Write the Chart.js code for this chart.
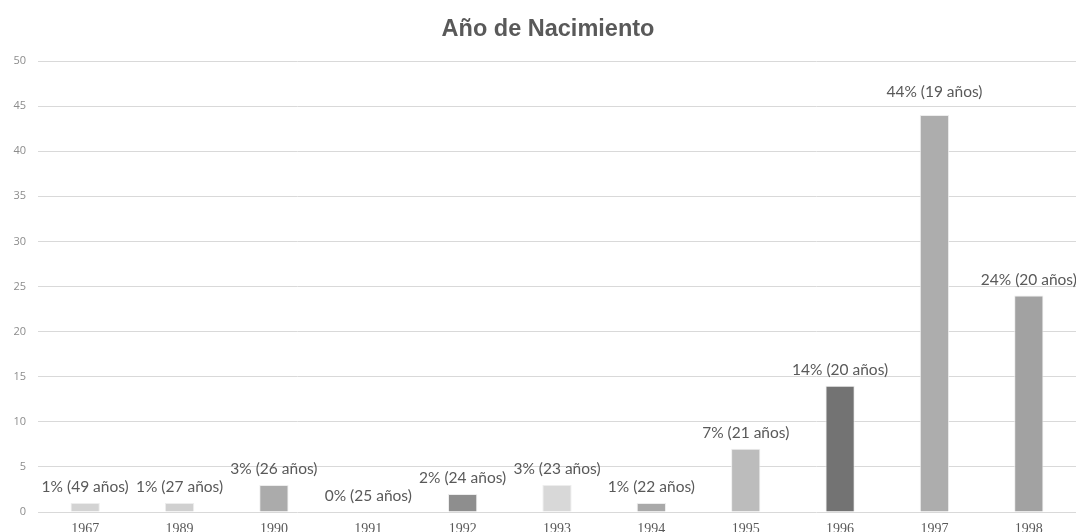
<!DOCTYPE html>
<html>
<head>
<meta charset="utf-8">
<script src="https://cdn.jsdelivr.net/npm/chart.js@4/dist/chart.umd.min.js"></script>
<style>
  html, body { margin: 0; padding: 0; background: #ffffff; }
  #wrap { width: 1076px; height: 532px; position: relative; }
</style>
</head>
<body>
<div id="wrap"><canvas id="c"></canvas></div>
<script>
// Birth years, share of respondents (%) and corresponding age
const years = ['1967', '1989', '1990', '1991', '1992', '1993', '1994', '1995', '1996', '1997', '1998'];
const percents = [1, 1, 3, 0, 2, 3, 1, 7, 14, 44, 24];
const ages = [49, 27, 26, 25, 24, 23, 22, 21, 20, 19, 20];
const barColors = ['#d3d3d3', '#d0d0d0', '#ababab', '#bdbdbd', '#8e8e8e', '#d8d8d8', '#a9a9a9', '#bcbcbc', '#737373', '#adadad', '#a2a2a2'];
const yTicks = [0, 5, 10, 15, 20, 25, 30, 35, 40, 45, 50];
const chartTitle = 'Año de Nacimiento';

const barLabels = percents.map((p, i) => p + '% (' + ages[i] + ' años)');

// Draws "NN% (NN años)" above each bar
const valueLabels = {
  id: 'valueLabels',
  afterDatasetsDraw(chart) {
    const ctx = chart.ctx;
    const meta = chart.getDatasetMeta(0);
    ctx.save();
    ctx.font = '15.5px Lato, "Open Sans", sans-serif';
    ctx.fillStyle = '#595959';
    ctx.textAlign = 'center';
    ctx.textBaseline = 'middle';
    meta.data.forEach((bar, i) => {
      const lift = percents[i] >= 40 ? 23 : 16;
      ctx.fillText(barLabels[i], bar.x, bar.y - lift);
    });
    ctx.restore();
  }
};

// Title centred over the plot area (slightly right of the canvas centre)
const plotTitle = {
  id: 'plotTitle',
  afterDraw(chart) {
    const ctx = chart.ctx;
    const area = chart.chartArea;
    ctx.save();
    ctx.font = 'bold 23.5px "Liberation Sans", Arial, sans-serif';
    ctx.fillStyle = '#595959';
    ctx.textAlign = 'center';
    ctx.textBaseline = 'middle';
    ctx.fillText(chartTitle, (area.left + area.right) / 2 - 9, 30);
    ctx.restore();
  }
};

new Chart(document.getElementById('c'), {
  type: 'bar',
  data: {
    labels: years,
    datasets: [{
      data: percents,
      backgroundColor: barColors,
      borderColor: 'rgba(235,235,235,0.9)',
      borderWidth: 1,
      categoryPercentage: 1,
      barPercentage: 0.31
    }]
  },
  options: {
    responsive: true,
    maintainAspectRatio: false,
    animation: false,
    layout: { padding: { top: 61, right: 0, bottom: 0, left: 0 } },
    plugins: {
      legend: { display: false },
      tooltip: { enabled: false },
      title: { display: false }
    },
    scales: {
      x: {
        grid: { display: false, drawTicks: false },
        border: { display: false },
        ticks: {
          color: '#595959',
          font: { family: '"Liberation Serif", "Times New Roman", serif', size: 14 },
          padding: 9,
          maxRotation: 0,
          autoSkip: false
        },
        afterFit(scale) { scale.height = 20; }
      },
      y: {
        min: 0,
        max: 50,
        afterBuildTicks(scale) { scale.ticks = yTicks.map(v => ({ value: v })); },
        grid: { color: '#d9d9d9', lineWidth: 1, drawTicks: false },
        border: { display: false },
        ticks: {
          color: '#8c8c8c',
          font: { family: '"Open Sans", sans-serif', size: 11 },
          padding: 12
        },
        afterFit(scale) { scale.width = 38; }
      }
    }
  },
  plugins: [valueLabels, plotTitle]
});
</script>
</body>
</html>
